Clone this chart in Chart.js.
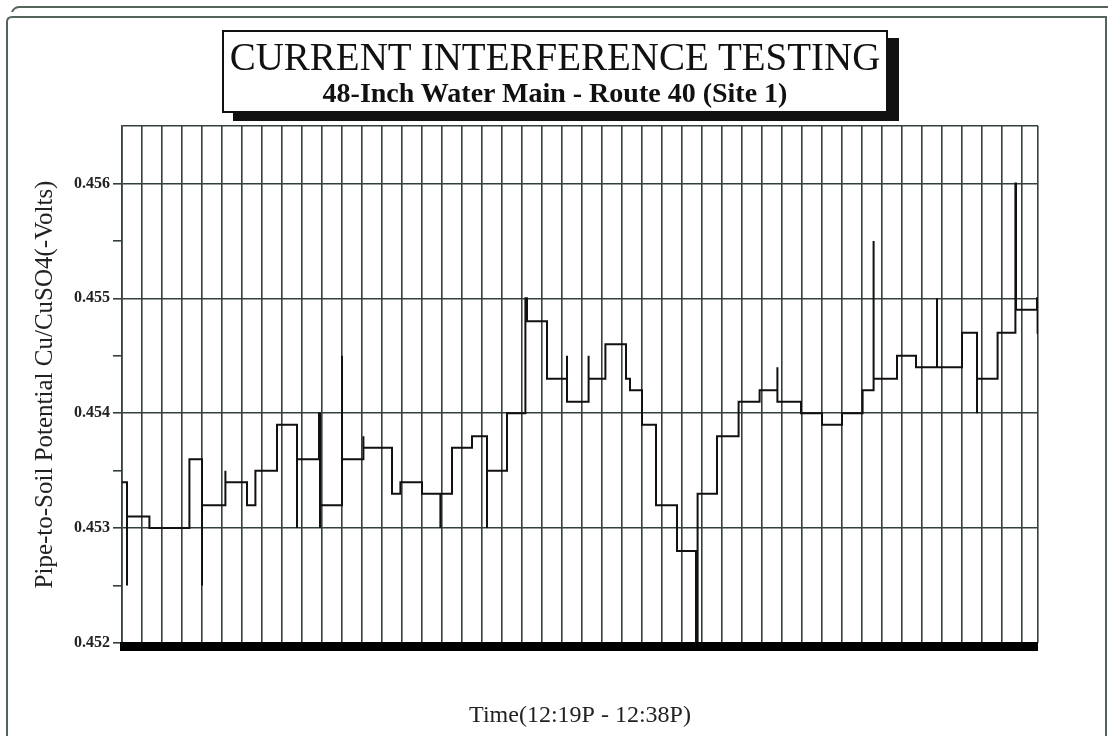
<!DOCTYPE html>
<html>
<head>
<meta charset="utf-8">
<title>Current Interference Testing</title>
<script src="https://cdn.jsdelivr.net/npm/chart.js@4"></script>
<style>
html,body{margin:0;padding:0;background:#fff;}
#wrap{position:relative;width:1108px;height:736px;overflow:hidden;}
#chart{position:absolute;left:0;top:0;}
#box{position:absolute;left:222px;top:30px;width:662px;height:79px;border:2px solid #111;background:#fff;
  box-shadow:11px 8px 0 #111;text-align:center;font-family:"Liberation Serif",serif;color:#111;z-index:2;}
#box .t1{font-size:39px;line-height:40px;margin-top:5px;white-space:nowrap;}
#box .t2{font-size:28px;font-weight:bold;line-height:32px;white-space:nowrap;}
</style>
</head>
<body>
<div id="wrap">
  <canvas id="chart" width="1108" height="736"></canvas>
  <div id="box">
    <div class="t1">CURRENT INTERFERENCE TESTING</div>
    <div class="t2">48-Inch Water Main - Route 40 (Site 1)</div>
  </div>
</div>
<script>
// Step trace (x in grid divisions, y in -Volts)
const times = [0, 0.25, 0.25, 1.37, 3.37, 4.0, 4.0, 5.17, 5.17, 6.25,
  6.67, 7.75, 8.75, 8.75, 9.85, 9.9, 9.9, 11.0, 11.0, 12.07,
  12.07, 13.5, 13.92, 15.0, 15.92, 15.92, 16.5, 17.5, 18.25, 18.25,
  19.25, 20.17, 20.25, 21.25, 22.25, 22.25, 23.33, 23.33, 24.17, 25.2,
  25.4, 26.0, 26.7, 27.75, 28.7, 28.78, 29.75, 30.83, 31.88, 32.77,
  32.77, 33.95, 35.0, 36.0, 37.03, 37.58, 37.58, 38.75, 39.7, 40.75,
  40.75, 42.0, 42.75, 42.75, 43.78, 44.67, 44.7, 45.75, 45.78, 45.8];
const volts = [0.4534, 0.4525, 0.4531, 0.4530, 0.4536, 0.4525, 0.4532, 0.4535, 0.4534, 0.4532,
  0.4535, 0.4539, 0.4530, 0.4536, 0.4540, 0.4530, 0.4532, 0.4545, 0.4536, 0.4538,
  0.4537, 0.4533, 0.4534, 0.4533, 0.4530, 0.4533, 0.4537, 0.4538, 0.4530, 0.4535,
  0.4540, 0.4550, 0.4548, 0.4543, 0.4545, 0.4541, 0.4545, 0.4543, 0.4546, 0.4543,
  0.4542, 0.4539, 0.4532, 0.4528, 0.4520, 0.4533, 0.4538, 0.4541, 0.4542, 0.4544,
  0.4541, 0.4540, 0.4539, 0.4540, 0.4542, 0.4555, 0.4543, 0.4545, 0.4544, 0.4550,
  0.4544, 0.4547, 0.4540, 0.4543, 0.4547, 0.4560, 0.4549, 0.4550, 0.4547, 0.4547];

const yMajor = [0.452, 0.453, 0.454, 0.455, 0.456];
const yMinor = [0.4525, 0.4535, 0.4545, 0.4555];
const yMin = 0.452, yMax = 0.4565;
const xDivisions = 45, xMax = 45.8;

const gridCol = '#34413a';
const isMajor = v => yMajor.some(m => Math.abs(m - v) < 1e-7);

const framePlugin = {
  id: 'frame',
  beforeDraw(chart){
    const c = chart.ctx;
    c.save();
    c.strokeStyle = '#55645a';
    c.lineWidth = 2;
    c.beginPath();
    c.moveTo(7, 736); c.lineTo(7, 22); c.quadraticCurveTo(7, 17, 12, 17); c.lineTo(1106, 17); c.lineTo(1106, 736);
    c.moveTo(12, 12); c.quadraticCurveTo(14, 7, 20, 7); c.lineTo(1108, 7);
    c.stroke();
    c.restore();
  },
  afterDraw(chart){
    const a = chart.chartArea, c = chart.ctx;
    c.save();
    c.fillStyle = '#000';
    c.fillRect(a.left - 2, a.bottom - 1, a.right - a.left + 2, 9);
    c.restore();
  }
};

new Chart(document.getElementById('chart').getContext('2d'), {
  type: 'line',
  data: {
    datasets: [{
      data: times.map((t, i) => ({x: t, y: volts[i]})),
      stepped: 'before',
      borderColor: '#111',
      borderWidth: 2,
      pointRadius: 0,
      fill: false
    }]
  },
  options: {
    responsive: false,
    animation: false,
    layout: {padding: {left: 26, top: 126, right: 70, bottom: 2}},
    plugins: {legend: {display: false}, tooltip: {enabled: false}},
    scales: {
      x: {
        type: 'linear', min: 0, max: xMax,
        afterBuildTicks: s => {
          const t = [];
          for (let i = 0; i <= xDivisions; i++) t.push({value: i});
          t.push({value: xMax});
          s.ticks = t;
        },
        afterFit: s => { s.height = 91; },
        ticks: {display: false},
        grid: {color: gridCol, lineWidth: 1.6, drawTicks: false},
        border: {display: false},
        title: {display: true, text: 'Time(12:19P - 12:38P)', color: '#222',
          font: {family: 'Liberation Serif', size: 24}, padding: {top: 4, bottom: 4}}
      },
      y: {
        type: 'linear', min: yMin, max: yMax,
        afterBuildTicks: s => {
          s.ticks = yMajor.concat(yMinor).concat([yMax]).sort((a, b) => a - b).map(v => ({value: v}));
        },
        afterFit: s => { s.width = 96; },
        ticks: {
          color: '#222', padding: 3,
          font: {family: 'Liberation Serif', size: 16, weight: 'bold'},
          callback: v => isMajor(v) ? v.toFixed(3) : ''
        },
        grid: {
          lineWidth: 1.6, tickLength: 9,
          color: ctx => (isMajor(ctx.tick.value) || Math.abs(ctx.tick.value - yMax) < 1e-7) ? gridCol : 'rgba(0,0,0,0)',
          tickColor: ctx => Math.abs(ctx.tick.value - yMax) < 1e-7 ? 'rgba(0,0,0,0)' : gridCol
        },
        border: {display: true, color: gridCol, width: 1.6},
        title: {display: true, text: 'Pipe-to-Soil Potential Cu/CuSO4(-Volts)', color: '#222',
          font: {family: 'Liberation Serif', size: 25}, padding: {top: 4, bottom: 4}}
      }
    }
  },
  plugins: [framePlugin]
});
</script>
</body>
</html>
